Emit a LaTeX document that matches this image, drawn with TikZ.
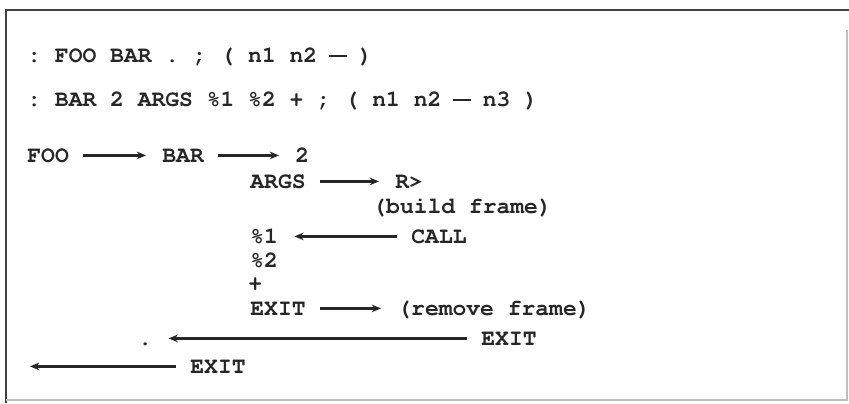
\documentclass[tikz,border=0pt]{standalone}
\usepackage[T1]{fontenc}
\usepackage{tikz}
\usetikzlibrary{arrows.meta}

\newcommand\forthfont{\fontfamily{pcr}\fontseries{b}\selectfont\frenchspacing}
\newcommand\stackdash{\makebox[6.9pt]{\rule[2.7pt]{9pt}{0.8pt}}}

\begin{document}
\begin{tikzpicture}[x=0.5pt, y=-0.5pt,
  word/.style={anchor=base west, inner sep=0pt, text height=6.6pt, text depth=0pt,
    font=\forthfont\fontsize{11.5}{14}\selectfont, text=black!85},
  flow/.style={-{Stealth[length=4.6pt,width=3.8pt]}, line width=1.1pt, draw=black!85,
    shorten <=7pt, shorten >=8pt}]

\useasboundingbox (0,0) rectangle (849,403);

%%% --- Frame --- %%%
\draw[line width=1.3pt, black!75] (6,403) -- (6,10) -- (849,10);
\draw[line width=0.6pt, black!25] (847,30) -- (847,400) -- (6,400);


%%% --- Definitions --- %%%
\node[word] (def1) at (27,62) {: FOO BAR . ; ( n1 n2 \stackdash{} )};
\node[word] (def2) at (27,106) {: BAR 2 ARGS \%1 \%2 + ; ( n1 n2 \stackdash{} n3 )};


%%% --- Call chain --- %%%
\node[word] (foo) at (27,162) {FOO};
\node[word] (bar) at (162,162) {BAR};
\node[word] (two) at (295,162) {2};

\node[word] (args) at (250,188) {ARGS};
\node[word] (rfrom) at (395,188) {R>};
\node[word] (build) at (372,213) {(build frame)};

\node[word] (pone) at (250,243) {\%1};
\node[word] (call) at (411,243) {CALL};
\node[word] (ptwo) at (250,267) {\%2};
\node[word] (plus) at (248,290) {+};

\node[word] (exitA) at (250,315) {EXIT};
\node[word] (remove) at (397,315) {(remove frame)};

\node[word] (dot) at (138,345) {.};
\node[word] (exitB) at (481,345) {EXIT};

\node[word] (exitC) at (190,373) {EXIT};
\coordinate (back) at (30,373);


%%% --- Arrows --- %%%
\draw[flow] (foo.east) -- (bar.west);
\draw[flow] (bar.east) -- (two.west);
\draw[flow] (args.east) -- (rfrom.west);
\draw[flow] (call.west) -- (pone.east);
\draw[flow] (exitA.east) -- (remove.west);
\draw[flow] (exitB.west) -- (dot.east);
\draw[flow, shorten >=0pt] (exitC.west) -- (exitC.west -| back);


\end{tikzpicture}
\end{document}
